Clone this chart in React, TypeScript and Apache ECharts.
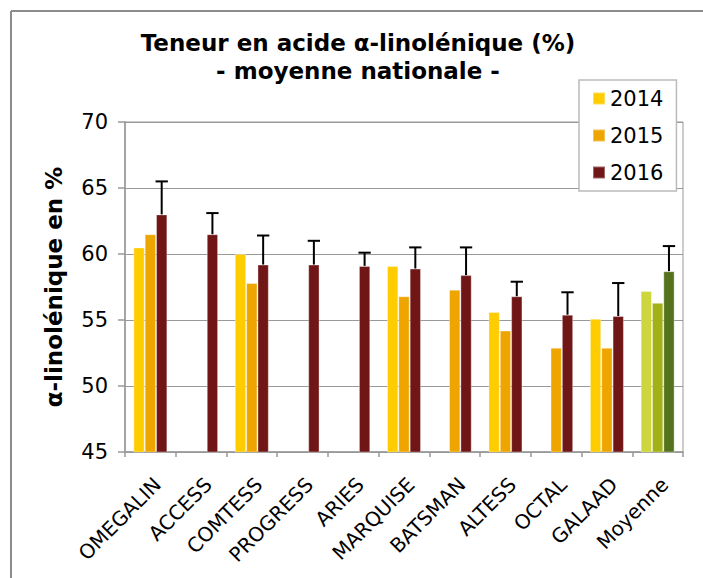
import React, { useEffect, useRef } from "react";
import * as echarts from "echarts";

const categories = ["OMEGALIN", "ACCESS", "COMTESS", "PROGRESS", "ARIES", "MARQUISE", "BATSMAN", "ALTESS", "OCTAL", "GALAAD", "Moyenne"];
const v2014: (number | null)[] = [60.5, null, 60.0, null, null, 59.1, null, 55.6, null, 55.1, 57.2];
const v2015: (number | null)[] = [61.5, null, 57.8, null, null, 56.8, 57.3, 54.2, 52.9, 52.9, 56.3];
const v2016: number[] = [63.0, 61.5, 59.2, 59.2, 59.1, 58.9, 58.4, 56.8, 55.4, 55.3, 58.7];
const err2016: number[] = [2.5, 1.6, 2.2, 1.8, 1.0, 1.6, 2.1, 1.1, 1.7, 2.5, 1.9];
const seriesNames = ["2014", "2015", "2016"];
const colors = ["#FFCC00", "#EEA500", "#701616"];
const moyenneColors = ["#CDD63C", "#A2B216", "#55731D"];
const yTicks = { min: 45, max: 70, interval: 5 };

const FONT = "DejaVu Sans";

function build(values: (number | null)[], s: number) {
  return values.map((v, i) =>
    categories[i] === "Moyenne" && v != null ? { value: v, itemStyle: { color: moyenneColors[s] } } : v == null ? "-" : v
  );
}

export default function App() {
  const ref = useRef<HTMLDivElement>(null);
  useEffect(() => {
    if (!ref.current) return;
    const chart = echarts.init(ref.current, null, { renderer: "svg" });
    const GAP = 0.33;
    const barBase = {
      type: "bar" as const,
      barGap: "0%",
      barCategoryGap: "33%",
      itemStyle: { borderColor: "rgba(255,255,255,0.35)", borderWidth: 1 },
    };
    chart.setOption({
      animation: false,
      backgroundColor: "#fff",
      title: {
        text: "Teneur en acide α-linolénique (%)\n- moyenne nationale -",
        left: 358,
        top: 29,
        textAlign: "center",
        padding: 0,
        textStyle: { fontFamily: FONT, fontSize: 23, fontWeight: "bold", lineHeight: 28, color: "#000" },
      },
      legend: {
        data: seriesNames,
        orient: "vertical",
        left: 579,
        top: 80,
        padding: [8, 13, 8, 13],
        itemWidth: 12,
        itemHeight: 12,
        itemGap: 16,
        icon: "rect",
        borderColor: "#bbbbbb",
        borderWidth: 1.5,
        backgroundColor: "#fff",
        textStyle: { fontFamily: FONT, fontSize: 21, lineHeight: 20, color: "#000" },
        selectedMode: false,
      },
      grid: { left: 125, right: 20, top: 122, bottom: 126, show: true, borderColor: "#999", borderWidth: 1 },
      xAxis: {
        type: "category",
        data: categories,
        axisLine: { lineStyle: { color: "#999", width: 1.5 } },
        axisTick: { show: true, interval: 0, length: 5, lineStyle: { color: "#999", width: 1.5 } },
        axisLabel: {
          interval: 0,
          rotate: 45,
          margin: 22,
          verticalAlign: "top",
          fontFamily: FONT,
          fontSize: 20,
          color: "#000",
        },
      },
      yAxis: {
        type: "value",
        min: yTicks.min,
        max: yTicks.max,
        interval: yTicks.interval,
        name: "α-linolénique en %",
        nameLocation: "middle",
        nameGap: 60,
        nameTextStyle: { fontFamily: FONT, fontSize: 23, fontWeight: "bold", color: "#000" },
        axisLine: { show: true, lineStyle: { color: "#999", width: 1.5 } },
        axisTick: { show: true, length: 7, lineStyle: { color: "#999", width: 1.5 } },
        axisLabel: { fontFamily: FONT, fontSize: 21, color: "#000", margin: 17 },
        splitLine: { lineStyle: { color: "#999", width: 1 } },
      },
      series: [
        { ...barBase, name: "2014", color: colors[0], data: build(v2014, 0) },
        { ...barBase, name: "2015", color: colors[1], data: build(v2015, 1) },
        { ...barBase, name: "2016", color: colors[2], data: build(v2016, 2) },
        {
          type: "custom",
          name: "err",
          z: 5,
          data: v2016.map((v, i) => [i, v, err2016[i]]),
          encode: { x: 0, y: 1 },
          renderItem: (params: any, api: any) => {
            const idx = api.value(0);
            const v = api.value(1);
            const e = api.value(2);
            const base = api.coord([idx, v]);
            const top = api.coord([idx, v + e]);
            const band = api.size([1, 0])[0];
            const bw = (band * (1 - GAP)) / 3;
            const x = base[0] + bw;
            const half = bw / 2 + 0.5;
            return {
              type: "group",
              children: [
                { type: "line", shape: { x1: x, y1: base[1], x2: x, y2: top[1] }, style: { stroke: "#000", lineWidth: 2 } },
                { type: "line", shape: { x1: x - half, y1: top[1], x2: x + half, y2: top[1] }, style: { stroke: "#000", lineWidth: 2 } },
              ],
            };
          },
        },
      ],
      graphic: [
        { type: "line", shape: { x1: 11, y1: 11, x2: 703, y2: 11 }, style: { stroke: "#8c8c8c", lineWidth: 2 } },
        { type: "line", shape: { x1: 11, y1: 11, x2: 11, y2: 578 }, style: { stroke: "#8c8c8c", lineWidth: 2 } },
      ],
    });
    return () => chart.dispose();
  }, []);
  return <div ref={ref} style={{ position: "fixed", left: 0, top: 0, width: 703, height: 578 }} />;
}
